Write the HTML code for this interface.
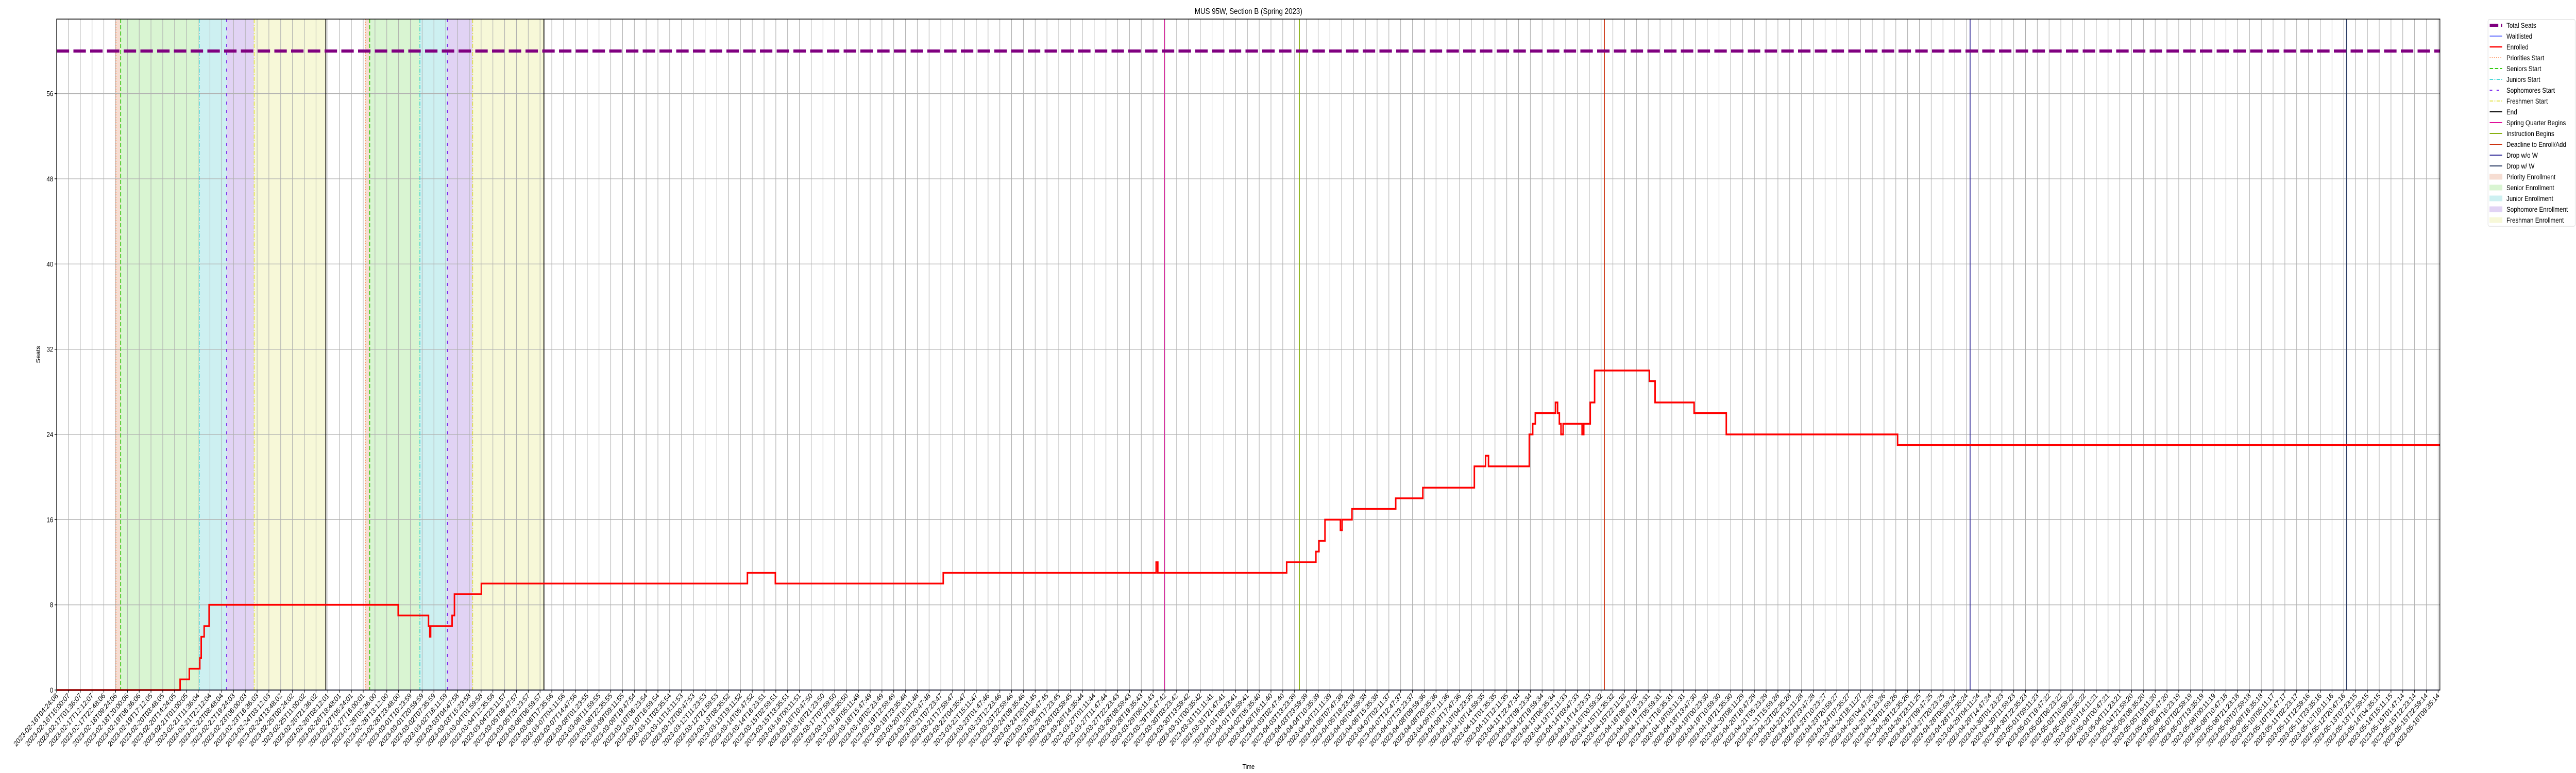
<!DOCTYPE html>
<html><head><meta charset="utf-8"><style>
html,body{margin:0;padding:0;background:#fff;overflow:hidden;width:100%;height:100%;}
svg{display:block;width:100vw;height:100vh;font-family:"Liberation Sans","DejaVu Sans",sans-serif;}
</style></head><body>
<svg id="chart" viewBox="0 0 6000 1500" preserveAspectRatio="none" xmlns="http://www.w3.org/2000/svg">
<rect width="6000" height="1500" fill="#fff"/>
<g id="bands"></g><g id="grid"></g><g id="events"></g><g id="series"></g><g id="axes"></g>
<text x="2908" y="27" font-size="16" text-anchor="middle">MUS 95W, Section B (Spring 2023)</text>
<text x="0" y="0" font-size="13" text-anchor="middle" transform="translate(93,688) rotate(-90)">Seats</text>
<text x="2908" y="1492" font-size="13" text-anchor="middle">Time</text>
<g id="legend"></g>
</svg>
<script>
// ---- data (x in tick-index units, linear in time) ----
const totalSeats = 60;
const enrolledX = [0,10.47,11.25,12.14,12.26,12.51,12.93,28.97,31.54,31.65,31.72,33.54,33.74,36.02,58.59,60.96,75.2,93.26,93.4,104.33,106.81,107.07,107.58,108.89,109.03,109.87,113.58,115.88,120.25,121.2,121.45,124.91,125.2,125.42,127.13,127.31,127.46,127.6,127.78,129.39,129.53,130.08,130.45,135.1,135.58,138.89,141.62,156.15];
const enrolledY = [0,1,2,3,5,6,8,7,6,5,6,7,9,10,11,10,11,12,11,12,13,14,16,15,16,17,18,19,21,22,21,24,25,26,27,26,25,24,25,24,25,27,30,29,27,26,24,23];
const waitlistX = [0,202.15];
const waitlistY = [0,0];
const yTicks = [0,8,16,24,32,40,48,56];
const bandStarts = [5.03,5.43,12.09,14.42,16.75,26.18,26.55,30.81,33.14,35.29];
const bandEnds =   [5.43,12.09,14.42,16.75,22.83,26.55,30.81,33.14,35.29,41.33];
const bandKinds =  ["priority","senior","junior","sophomore","freshman","priority","senior","junior","sophomore","freshman"];
const eventX =     [5.03,5.43,12.09,14.42,16.75,22.83,26.18,26.55,30.81,33.14,35.29,41.33,93.95,105.41,131.28,162.3,194.24];
const eventKinds = ["prio","sen","jun","soph","fresh","end","prio","sen","jun","soph","fresh","end","spring","instr","deadline","dropwo","dropw"];
const tickCount = 203;
const tickStart = Date.UTC(2023,1,16,4,24,8);
const tickEnd = Date.UTC(2023,4,16,9,35,14);
const tickLabels = [];
for (let i=0;i<tickCount;i++){ const d=new Date(tickStart+(tickEnd-tickStart)*i/(tickCount-1)); tickLabels.push(d.toISOString().slice(0,19)); }

// ---- axes ----
const L=132,R=5683,T=37,B=1339, XMAX=202.15, YMAX=63;
const sx=v=>L+(v/XMAX)*(R-L);
const sy=v=>B-(v/YMAX)*(B-T);
const NS="http://www.w3.org/2000/svg";
function mk(tag,attrs,parent){const e=document.createElementNS(NS,tag);for(const k in attrs)e.setAttribute(k,attrs[k]);parent.appendChild(e);return e;}
const bandsG=document.getElementById('bands'),gridG=document.getElementById('grid'),evG=document.getElementById('events'),serG=document.getElementById('series'),axG=document.getElementById('axes'),legG=document.getElementById('legend');
const bandColor={priority:"#f6ddd2",senior:"#d9f5d2",junior:"#cdf0f1",sophomore:"#e1d3f4",freshman:"#f7f8d8"};
bandStarts.forEach((s,i)=>{
  const r=mk('rect',{x:sx(s),y:T,width:sx(bandEnds[i])-sx(s),height:B-T,fill:bandColor[bandKinds[i]]},bandsG);
  
  
});
for(let i=0;i<tickCount;i++){
  const x=sx(i);
  const g=mk('line',{x1:x,x2:x,y1:T,y2:B,stroke:"#b0b0b0","stroke-width":1.3},gridG);
  
  
  const t=mk('line',{x1:x,x2:x,y1:B,y2:B+5,stroke:"#000","stroke-width":1.3},axG);
  
  
  const lb=mk('text',{transform:`translate(${x+4},${B+12}) rotate(-45)`,"text-anchor":"end","font-size":14.5,fill:"#000"},axG);
  lb.textContent=tickLabels[i];
  
  
}
yTicks.forEach(v=>{
  const y=sy(v);
  const g=mk('line',{x1:L,x2:R,y1:y,y2:y,stroke:"#b0b0b0","stroke-width":1.3},gridG);
  
  
  const t=mk('line',{x1:L-5,x2:L,y1:y,y2:y,stroke:"#000","stroke-width":1.3},axG);
  
  
  const lb=mk('text',{x:L-8,y:y+5,"text-anchor":"end","font-size":14},axG);
  lb.textContent=v;
  
  
});
const evStyle={
 prio:{c:"#ff7f3f",w:1.5,d:"2,3"}, sen:{c:"#33cc11",w:2,d:"8,4"}, jun:{c:"#11cccc",w:1.5,d:"8,3,2,3"},
 soph:{c:"#7722ee",w:2,d:"6,10"}, fresh:{c:"#dddd22",w:1.5,d:"8,3,2,3"}, end:{c:"#000",w:2,d:""},
 spring:{c:"#e0119a",w:2,d:""}, instr:{c:"#88b111",w:2,d:""}, deadline:{c:"#cc3311",w:2,d:""},
 dropwo:{c:"#332d99",w:2,d:""}, dropw:{c:"#2d3e66",w:2.5,d:""}
};
eventX.forEach((v,i)=>{
  const s=evStyle[eventKinds[i]];
  const l=mk('line',{x1:sx(v),x2:sx(v),y1:T,y2:B,stroke:s.c,"stroke-width":s.w},evG);
  if(s.d) l.setAttribute('stroke-dasharray',s.d);
  
  
});
// total seats
const ts=mk('line',{x1:L,x2:R,y1:sy(totalSeats),y2:sy(totalSeats),stroke:"#800080","stroke-width":6,"stroke-dasharray":"29,10"},serG);


// waitlisted
let wp=`M${sx(waitlistX[0])},${sy(waitlistY[0])}`;
for(let i=1;i<waitlistX.length;i++) wp+=` H${sx(waitlistX[i])} V${sy(waitlistY[i])}`;
const wl=mk('path',{d:wp,fill:"none",stroke:"#3344ff","stroke-width":1.5},serG);


// enrolled step
let ep=`M${sx(enrolledX[0])},${sy(enrolledY[0])}`;
for(let i=1;i<enrolledX.length;i++) ep+=` H${sx(enrolledX[i])} V${sy(enrolledY[i])}`;
ep+=` H${sx(XMAX)}`;
const el=mk('path',{d:ep,fill:"none",stroke:"#ff0000","stroke-width":3.5,"stroke-linejoin":"miter"},serG);


// frame
const fr=mk('rect',{x:L,y:T,width:R-L,height:B-T,fill:"none",stroke:"#000","stroke-width":1.5},axG);


// legend
const legItems=[
 ["Total Seats","line","#800080",6,"20,6"],["Waitlisted","line","#3344ff",1.5,""],["Enrolled","line","#ff0000",2.5,""],
 ["Priorities Start","line","#ff7f3f",1.5,"2,3"],["Seniors Start","line","#33cc11",2,"8,4"],["Juniors Start","line","#11cccc",1.5,"8,3,2,3"],
 ["Sophomores Start","line","#7722ee",2,"6,10"],["Freshmen Start","line","#dddd22",1.5,"8,3,2,3"],["End","line","#000",2,""],
 ["Spring Quarter Begins","line","#e0119a",2,""],["Instruction Begins","line","#88b111",2,""],["Deadline to Enroll/Add","line","#cc3311",2,""],
 ["Drop w/o W","line","#332d99",2,""],["Drop w/ W","line","#2d3e66",2,""],
 ["Priority Enrollment","patch","#f6ddd2"],["Senior Enrollment","patch","#d9f5d2"],["Junior Enrollment","patch","#cdf0f1"],
 ["Sophomore Enrollment","patch","#e1d3f4"],["Freshman Enrollment","patch","#f7f8d8"]
];
const lb=mk('rect',{x:5795,y:38,width:203,height:401,rx:3,fill:"#fff",stroke:"#d6d6d6","stroke-width":1},legG);


legItems.forEach((it,i)=>{
  const y=49+i*21;
  if(it[1]==="line"){
    const l=mk('line',{x1:5799,x2:5828,y1:y,y2:y,stroke:it[2],"stroke-width":it[3]},legG);
    if(it[4]) l.setAttribute('stroke-dasharray',it[4]);
    
    
  } else {
    const r=mk('rect',{x:5799,y:y-5,width:29,height:10,fill:it[2],stroke:it[2]},legG);
    
    
  }
  const t=mk('text',{x:5838,y:y+5,"font-size":14},legG);
  t.textContent=it[0];
  
  
});
</script>
</body></html>
